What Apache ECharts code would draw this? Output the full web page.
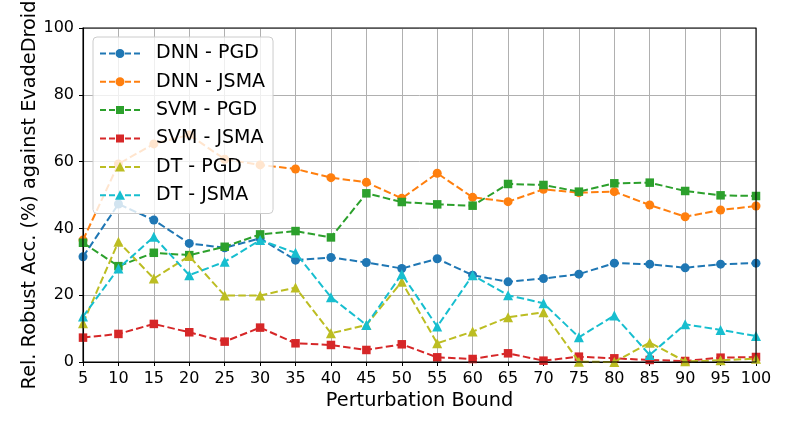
<!DOCTYPE html>
<html><head><meta charset="utf-8">
<script src="https://cdn.jsdelivr.net/npm/echarts@6/dist/echarts.min.js"></script>
<style>html,body{margin:0;padding:0;background:#fff}#c{width:793px;height:431px}</style>
</head><body><div id="c"></div>
<script>
const bounds = [5,10,15,20,25,30,35,40,45,50,55,60,65,70,75,80,85,90,95,100];
const dnnPGD  = [31.5,47.3,42.5,35.5,34.2,37.0,30.5,31.3,29.8,28.0,30.9,26.0,24.0,25.0,26.3,29.6,29.3,28.2,29.3,29.6];
const dnnJSMA = [36.5,59.3,65.3,68.0,60.7,59.0,57.8,55.2,53.8,49.0,56.5,49.3,48.0,51.7,50.7,51.0,47.0,43.5,45.5,46.7];
const svmPGD  = [35.7,28.7,32.7,32.0,34.5,38.2,39.2,37.3,50.5,47.9,47.2,46.8,53.3,53.0,51.0,53.5,53.7,51.2,49.9,49.7];
const svmJSMA = [7.3,8.4,11.4,8.9,6.1,10.3,5.6,5.1,3.6,5.3,1.4,0.9,2.6,0.4,1.6,1.1,0.6,0.3,1.3,1.5];
const dtPGD   = [11.6,36.0,25.0,31.7,19.9,19.9,22.3,8.6,11.1,24.0,5.6,9.1,13.4,14.9,0.1,0.0,5.8,0.2,0.5,1.0];
const dtJSMA  = [13.6,28.0,37.5,26.0,30.0,36.5,32.7,19.4,11.1,26.3,10.6,26.0,20.0,17.6,7.4,13.9,2.1,11.3,9.6,7.8];
const names = ['DNN - PGD','DNN - JSMA','SVM - PGD','SVM - JSMA','DT - PGD','DT - JSMA'];
const yTicks = [0,20,40,60,80,100];

const colors = ['#1f77b4','#ff7f0e','#2ca02c','#d62728','#bcbd22','#17becf'];
const symbols = ['circle','circle','rect','rect','triangle','triangle'];
const sizes = [9,9,8.5,8.5,10,10];
const allData = [dnnPGD,dnnJSMA,svmPGD,svmJSMA,dtPGD,dtJSMA];
const font = 'DejaVu Sans';

// legend icons: dashed line with marker, in a 40x10 box
const dashes = 'M0,4 h6 v2 h-6 z M9,4 h6 v2 h-6 z M25,4 h6 v2 h-6 z M34,4 h6 v2 h-6 z ';
const markerPaths = {
  circle: 'M15.5,5 a4.5,4.5 0 1,0 9,0 a4.5,4.5 0 1,0 -9,0 z',
  rect: 'M16,1 h8 v8 h-8 z',
  triangle: 'M20,0 L25,9.5 L15,9.5 z'
};
const icons = symbols.map(s => 'path://' + dashes + markerPaths[s]);

const chart = echarts.init(document.getElementById('c'), null, {renderer:'canvas'});
chart.setOption({
  animation:false,
  grid:{left:83,right:37,top:28,bottom:69,show:false,containLabel:false,outerBoundsMode:'none'},
  legend:{
    left:93, top:37, orient:'vertical', itemGap:9.3, itemWidth:40, itemHeight:10,
    padding:[7,8,9,7],
    backgroundColor:'rgba(255,255,255,0.8)', borderColor:'#cccccc', borderWidth:1, borderRadius:4,
    textStyle:{fontFamily:font,fontSize:19,lineHeight:19,color:'#000',padding:[0,0,0,11]},
    data:names.map((n,i)=>({name:n,icon:icons[i]})),
    z:10
  },
  xAxis:{
    type:'value', min:5, max:100, interval:5,
    name:'Perturbation Bound', nameLocation:'middle', nameGap:28,
    nameTextStyle:{fontFamily:font,fontSize:19.3,color:'#000'},
    axisLine:{show:true,onZero:false,lineStyle:{color:'#000',width:1.1}},
    axisTick:{show:true,length:4,lineStyle:{color:'#000'}},
    axisLabel:{fontFamily:font,fontSize:16,color:'#000',margin:9},
    splitLine:{show:true,lineStyle:{color:'#b0b0b0',width:1}}
  },
  yAxis:{
    type:'value', min:0, max:100, interval:20,
    name:'Rel. Robust Acc. (%) against EvadeDroid', nameLocation:'middle', nameGap:44,
    nameMoveOverlap:false,
    nameTextStyle:{fontFamily:font,fontSize:19.3,color:'#000'},
    axisLine:{show:true,onZero:false,lineStyle:{color:'#000',width:1.1}},
    axisTick:{show:true,length:4,lineStyle:{color:'#000'}},
    axisLabel:{fontFamily:font,fontSize:16,color:'#000',margin:9,
      formatter:v=>yTicks.includes(v)?String(v):''},
    splitLine:{show:true,lineStyle:{color:'#b0b0b0',width:1}}
  },
  graphic:[{type:'rect',shape:{x:83,y:28,width:673,height:334},
    style:{fill:'none',stroke:'#000',lineWidth:1.1},z:100,silent:true}],
  series:allData.map((d,i)=>({
    name:names[i], type:'line',
    data:bounds.map((b,j)=>[b,d[j]]),
    symbol:symbols[i], symbolSize:sizes[i], showAllSymbol:true,
    lineStyle:{color:colors[i],width:2,type:[7.5,3.3]},
    itemStyle:{color:colors[i],borderWidth:0},
    clip:false, z:2+i*0.01
  }))
});
</script></body></html>
